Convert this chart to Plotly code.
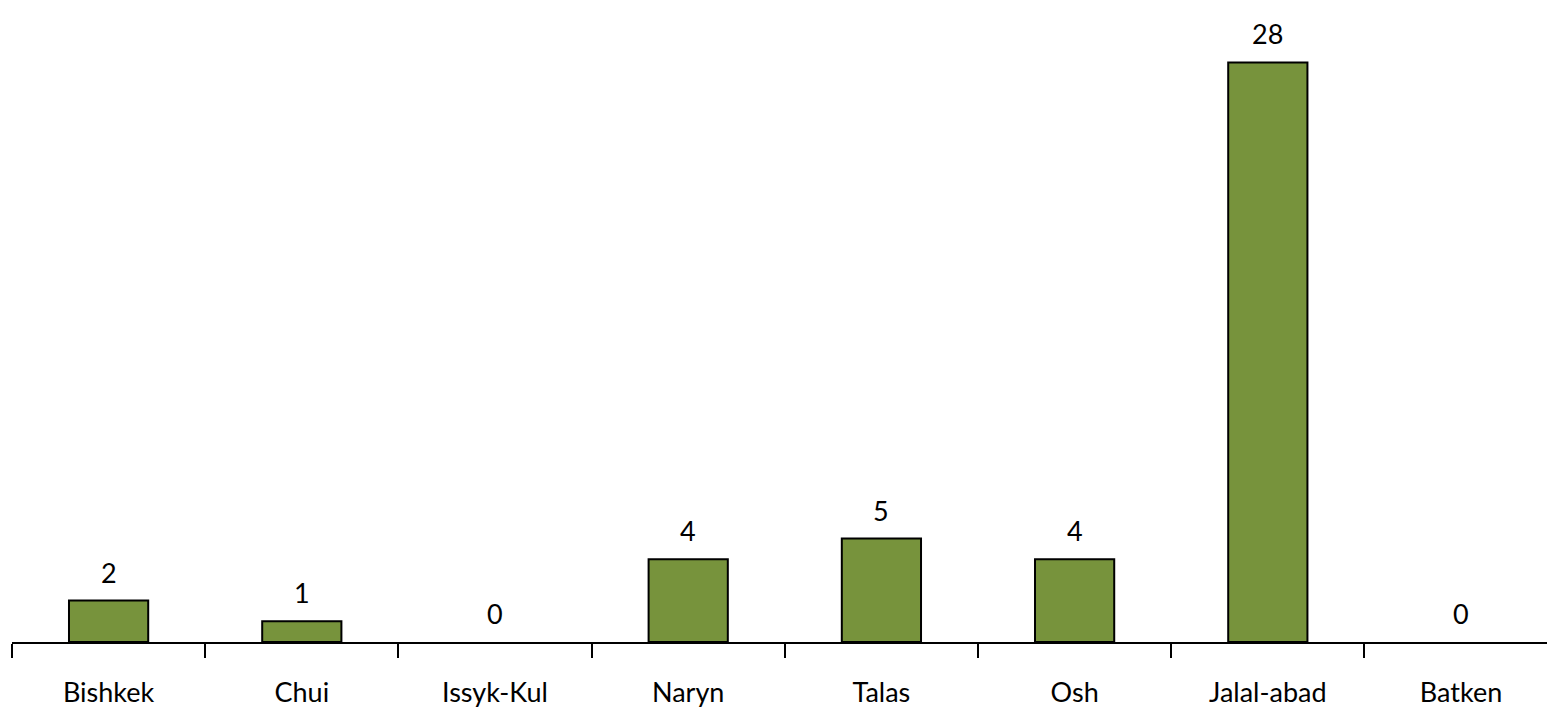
import plotly.graph_objects as go

regions = ["Bishkek", "Chui", "Issyk-Kul", "Naryn", "Talas", "Osh", "Jalal-abad", "Batken"]
values = [2, 1, 0, 4, 5, 4, 28, 0]

FONT = "Lato"
FS = 27

fig = go.Figure()
fig.add_trace(go.Bar(
    x=regions, y=values, width=0.41,
    marker=dict(color="#77933C",
                line=dict(color="black", width=[2 if v > 0 else 0 for v in values])),
    hoverinfo="x+y",
))
for r, v in zip(regions, values):
    fig.add_annotation(x=r, y=v, text=str(v), showarrow=False, yanchor="bottom",
                       yshift=10, font=dict(size=FS, color="black", family=FONT))

fig.update_layout(
    width=1547, height=710,
    margin=dict(l=12, r=0, t=21, b=68, autoexpand=False),
    plot_bgcolor="white", paper_bgcolor="white",
    showlegend=False,
    font=dict(family=FONT, size=FS, color="black"),
    xaxis=dict(type="category", range=[-0.5, 7.445], tickson="boundaries",
               ticks="outside", ticklen=14, tickwidth=1.5, tickcolor="black",
               showline=True, linecolor="black", linewidth=2, automargin=False,
               showgrid=False, zeroline=False, ticklabelstandoff=26,
               tickfont=dict(size=FS, family=FONT)),
    yaxis=dict(range=[0, 30], visible=False, showgrid=False, zeroline=False,
               automargin=False),
)
fig.write_html("out.html", config={"displayModeBar": False},
               post_script="document.body.style.margin='0';document.body.style.overflow='hidden';")
